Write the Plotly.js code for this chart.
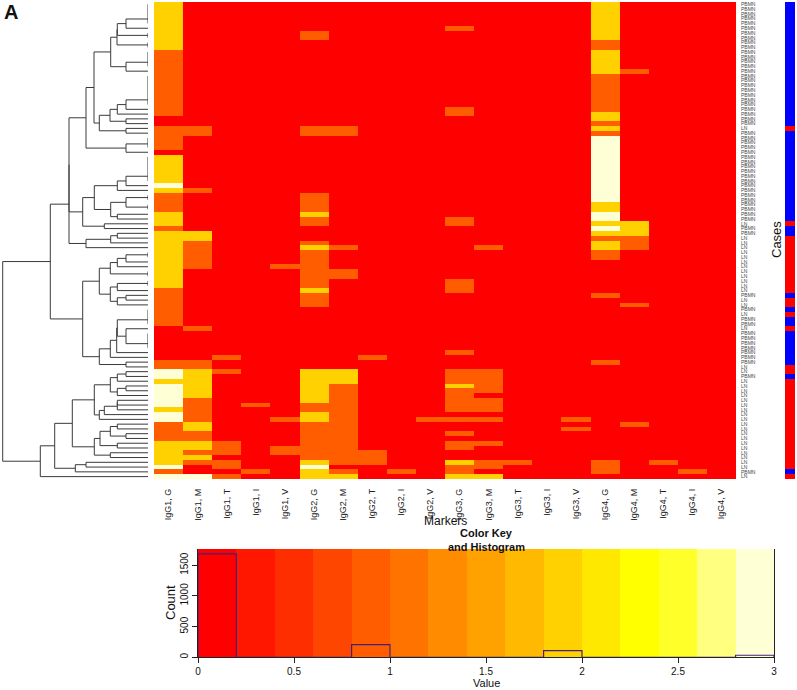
<!DOCTYPE html>
<html>
<head>
<meta charset="utf-8">
<script src="https://cdn.plot.ly/plotly-3.0.1.min.js"></script>
<style>html,body{margin:0;padding:0;background:#fff}</style>
</head>
<body>
<div id="chart" style="width:797px;height:690px"></div>
<script>
// Column labels of the heat map
const markers = ["IgG1, G","IgG1, M","IgG1, T","IgG1, I","IgG1, V","IgG2, G","IgG2, M","IgG2, T","IgG2, I","IgG2, V",
                 "IgG3, G","IgG3, M","IgG3, T","IgG3, I","IgG3, V","IgG4, G","IgG4, M","IgG4, T","IgG4, I","IgG4, V"];

// Heat-map values, one array per marker, top row first (10 values per group)
const IgG1_G = [2,2,2,2,2,2,2,2,2,2, 1,1,1,1,1,1,1,1,1,1, 1,1,1,1,0,0,1,1,1,1, 1,0,2,2,2,2,2,2,3,2, 1,1,1,1,2,2,2,1,2,2, 2,2,2,2,2,2,2,2,2,2, 1,1,1,1,1,1,1,1,0,0, 0,0,0,0,0,1,1,3,3,2, 3,3,3,3,3,2,3,3,1,1, 1,1,2,2,2,2,2,3,1,3];
const IgG1_M = [0,0,0,0,0,0,0,0,0,0, 0,0,0,0,0,0,0,0,0,0, 0,0,0,0,0,0,1,1,0,0, 0,0,0,0,0,0,0,0,0,1, 0,0,0,0,0,0,0,0,2,2, 1,1,1,1,1,1,0,0,0,0, 0,0,0,0,0,0,0,0,1,0, 0,0,0,0,0,1,1,2,2,2, 2,2,2,1,1,1,1,1,2,2, 1,1,2,2,1,2,1,0,0,3];
const IgG1_T = [0,0,0,0,0,0,0,0,0,0, 0,0,0,0,0,0,0,0,0,0, 0,0,0,0,0,0,0,0,0,0, 0,0,0,0,0,0,0,0,0,0, 0,0,0,0,0,0,0,0,0,0, 0,0,0,0,0,0,0,0,0,0, 0,0,0,0,0,0,0,0,0,0, 0,0,0,0,1,0,0,1,0,0, 0,0,0,0,0,0,0,0,0,0, 0,0,1,1,1,0,1,1,0,1];
const IgG1_I = [0,0,0,0,0,0,0,0,0,0, 0,0,0,0,0,0,0,0,0,0, 0,0,0,0,0,0,0,0,0,0, 0,0,0,0,0,0,0,0,0,0, 0,0,0,0,0,0,0,0,0,0, 0,0,0,0,0,0,0,0,0,0, 0,0,0,0,0,0,0,0,0,0, 0,0,0,0,0,0,0,0,0,0, 0,0,0,0,1,0,0,0,0,0, 0,0,0,0,0,0,0,0,1,0];
const IgG1_V = [0,0,0,0,0,0,0,0,0,0, 0,0,0,0,0,0,0,0,0,0, 0,0,0,0,0,0,0,0,0,0, 0,0,0,0,0,0,0,0,0,0, 0,0,0,0,0,0,0,0,0,0, 0,0,0,0,0,1,0,0,0,0, 0,0,0,0,0,0,0,0,0,0, 0,0,0,0,0,0,0,0,0,0, 0,0,0,0,0,0,0,1,0,0, 0,0,0,1,1,0,0,0,0,0];
const IgG2_G = [0,0,0,0,0,0,1,1,0,0, 0,0,0,0,0,0,0,0,0,0, 0,0,0,0,0,0,1,1,0,0, 0,0,0,0,0,0,0,0,0,0, 1,1,1,1,2,1,1,0,0,0, 1,2,1,1,1,1,1,1,1,1, 2,1,1,1,0,0,0,0,0,0, 0,0,0,0,0,0,0,2,2,2, 2,2,2,2,1,1,2,2,1,1, 1,1,1,1,1,1,2,3,2,2];
const IgG2_M = [0,0,0,0,0,0,0,0,0,0, 0,0,0,0,0,0,0,0,0,0, 0,0,0,0,0,0,1,1,0,0, 0,0,0,0,0,0,0,0,0,0, 0,0,0,0,0,0,0,0,0,0, 0,1,0,0,0,0,1,1,0,0, 0,0,0,0,0,0,0,0,0,0, 0,0,0,0,0,0,0,2,2,2, 1,1,1,1,1,1,1,1,1,1, 1,1,1,1,1,1,1,0,1,2];
const IgG2_T = [0,0,0,0,0,0,0,0,0,0, 0,0,0,0,0,0,0,0,0,0, 0,0,0,0,0,0,0,0,0,0, 0,0,0,0,0,0,0,0,0,0, 0,0,0,0,0,0,0,0,0,0, 0,0,0,0,0,0,0,0,0,0, 0,0,0,0,0,0,0,0,0,0, 0,0,0,0,1,0,0,0,0,0, 0,0,0,0,0,0,0,0,0,0, 0,0,0,0,1,1,1,0,0,0];
const IgG2_I = [0,0,0,0,0,0,0,0,0,0, 0,0,0,0,0,0,0,0,0,0, 0,0,0,0,0,0,0,0,0,0, 0,0,0,0,0,0,0,0,0,0, 0,0,0,0,0,0,0,0,0,0, 0,0,0,0,0,0,0,0,0,0, 0,0,0,0,0,0,0,0,0,0, 0,0,0,0,0,0,0,0,0,0, 0,0,0,0,0,0,0,0,0,0, 0,0,0,0,0,0,0,0,1,0];
const IgG2_V = [0,0,0,0,0,0,0,0,0,0, 0,0,0,0,0,0,0,0,0,0, 0,0,0,0,0,0,0,0,0,0, 0,0,0,0,0,0,0,0,0,0, 0,0,0,0,0,0,0,0,0,0, 0,0,0,0,0,0,0,0,0,0, 0,0,0,0,0,0,0,0,0,0, 0,0,0,0,0,0,0,0,0,0, 0,0,0,0,0,0,0,1,0,0, 0,0,0,0,0,0,0,0,0,0];
const IgG3_G = [0,0,0,0,0,1,0,0,0,0, 0,0,0,0,0,0,0,0,0,0, 0,0,1,1,0,0,0,0,0,0, 0,0,0,0,0,0,0,0,0,0, 0,0,0,0,0,1,1,0,0,0, 0,0,0,0,0,0,0,0,1,1, 1,0,0,0,0,0,0,0,0,0, 0,0,0,1,0,0,0,1,1,1, 2,1,1,1,1,1,0,1,0,0, 1,0,1,1,0,0,2,1,1,2];
const IgG3_M = [0,0,0,0,0,0,0,0,0,0, 0,0,0,0,0,0,0,0,0,0, 0,0,0,0,0,0,0,0,0,0, 0,0,0,0,0,0,0,0,0,0, 0,0,0,0,0,0,0,0,0,0, 0,1,0,0,0,0,0,0,0,0, 0,0,0,0,0,0,0,0,0,0, 0,0,0,0,0,0,0,1,1,1, 1,1,0,1,1,1,0,1,0,0, 0,0,1,0,0,0,1,1,0,2];
const IgG3_T = [0,0,0,0,0,0,0,0,0,0, 0,0,0,0,0,0,0,0,0,0, 0,0,0,0,0,0,0,0,0,0, 0,0,0,0,0,0,0,0,0,0, 0,0,0,0,0,0,0,0,0,0, 0,0,0,0,0,0,0,0,0,0, 0,0,0,0,0,0,0,0,0,0, 0,0,0,0,0,0,0,0,0,0, 0,0,0,0,0,0,0,0,0,0, 0,0,0,0,0,0,1,0,0,0];
const IgG3_I = [0,0,0,0,0,0,0,0,0,0, 0,0,0,0,0,0,0,0,0,0, 0,0,0,0,0,0,0,0,0,0, 0,0,0,0,0,0,0,0,0,0, 0,0,0,0,0,0,0,0,0,0, 0,0,0,0,0,0,0,0,0,0, 0,0,0,0,0,0,0,0,0,0, 0,0,0,0,0,0,0,0,0,0, 0,0,0,0,0,0,0,0,0,0, 0,0,0,0,0,0,0,0,0,0];
const IgG3_V = [0,0,0,0,0,0,0,0,0,0, 0,0,0,0,0,0,0,0,0,0, 0,0,0,0,0,0,0,0,0,0, 0,0,0,0,0,0,0,0,0,0, 0,0,0,0,0,0,0,0,0,0, 0,0,0,0,0,0,0,0,0,0, 0,0,0,0,0,0,0,0,0,0, 0,0,0,0,0,0,0,0,0,0, 0,0,0,0,0,0,0,1,0,1, 0,0,0,0,0,0,0,0,0,0];
const IgG4_G = [2,2,2,2,2,2,2,2,1,1, 2,2,2,2,2,1,1,1,1,1, 1,1,1,2,2,1,2,1,3,3, 3,3,3,3,3,3,3,3,3,3, 3,3,2,2,3,3,2,3,2,1, 2,2,1,1,0,0,0,0,0,0, 0,1,0,0,0,0,0,0,0,0, 0,0,0,0,0,1,0,0,0,0, 0,0,0,0,0,0,0,0,0,0, 0,0,0,0,0,0,1,1,1,0];
const IgG4_M = [0,0,0,0,0,0,0,0,0,0, 0,0,0,0,1,0,0,0,0,0, 0,0,0,0,0,0,0,0,0,0, 0,0,0,0,0,0,0,0,0,0, 0,0,0,0,0,0,2,2,2,1, 1,1,0,0,0,0,0,0,0,0, 0,0,0,1,0,0,0,0,0,0, 0,0,0,0,0,0,0,0,0,0, 0,0,0,0,0,0,0,0,1,0, 0,0,0,0,0,0,0,0,0,0];
const IgG4_T = [0,0,0,0,0,0,0,0,0,0, 0,0,0,0,0,0,0,0,0,0, 0,0,0,0,0,0,0,0,0,0, 0,0,0,0,0,0,0,0,0,0, 0,0,0,0,0,0,0,0,0,0, 0,0,0,0,0,0,0,0,0,0, 0,0,0,0,0,0,0,0,0,0, 0,0,0,0,0,0,0,0,0,0, 0,0,0,0,0,0,0,0,0,0, 0,0,0,0,0,0,1,0,0,0];
const IgG4_I = [0,0,0,0,0,0,0,0,0,0, 0,0,0,0,0,0,0,0,0,0, 0,0,0,0,0,0,0,0,0,0, 0,0,0,0,0,0,0,0,0,0, 0,0,0,0,0,0,0,0,0,0, 0,0,0,0,0,0,0,0,0,0, 0,0,0,0,0,0,0,0,0,0, 0,0,0,0,0,0,0,0,0,0, 0,0,0,0,0,0,0,0,0,0, 0,0,0,0,0,0,0,0,1,0];
const IgG4_V = [0,0,0,0,0,0,0,0,0,0, 0,0,0,0,0,0,0,0,0,0, 0,0,0,0,0,0,0,0,0,0, 0,0,0,0,0,0,0,0,0,0, 0,0,0,0,0,0,0,0,0,0, 0,0,0,0,0,0,0,0,0,0, 0,0,0,0,0,0,0,0,0,0, 0,0,0,0,0,0,0,0,0,0, 0,0,0,0,0,0,0,0,0,0, 0,0,0,0,0,0,0,0,0,0];
const columns = [IgG1_G,IgG1_M,IgG1_T,IgG1_I,IgG1_V,IgG2_G,IgG2_M,IgG2_T,IgG2_I,IgG2_V,
                 IgG3_G,IgG3_M,IgG3_T,IgG3_I,IgG3_V,IgG4_G,IgG4_M,IgG4_T,IgG4_I,IgG4_V];

// Case side bar: 1 = PBMN (blue), 0 = LN (red)
const caseGroup = [1,1,1,1,1,1,1,1,1,1, 1,1,1,1,1,1,1,1,1,1, 1,1,1,1,1,1,0,1,1,1, 1,1,1,1,1,1,1,1,1,1, 1,1,1,1,1,1,0,1,1,0, 0,0,0,0,0,0,0,0,0,0, 0,1,0,0,1,0,1,1,0,1, 1,1,1,1,1,1,0,0,1,0, 0,0,0,0,0,0,0,0,0,0, 0,0,0,0,0,0,0,0,1,0];
const caseNames = ["LN","PBMN"];

// Row dendrogram: [height, upper child, lower child]; a plain number n is n identical leaves
const cladeA = [37.3, [31, [30.7, [22, 5, 1], 2], 2], [22, 4, 1]];
const cladeB = [48.7, [38, [30.7, [22, 7, 1], 1], [22, 1, 1]], [22, 1, 1]];
const cladeC = [62, [54, cladeA, cladeB], [22, 3, 1]];
const cladeD = [65.3, [53.7, [30.7, [22, 6, 1], 1], [37.3, [22, 2, 2], [30.7, 1, 1]]], [43.7, 1, 1]];
const cladeE = [62, [37.3, [30.7, 1, 1], 1], 1];
const cladeF = [79, [79, cladeC, cladeD], cladeE];
const cladeG = [48.7, [37.7, [30.7, [22, 2, 1], 1], 2], [37.7, [30.7, 2, 1], [30.7, [22, 1, 1], 1]]];
const cladeH = [48.7, [37.7, [31.3, [30.7, 4, [22, 1, 4]], 1], 1], [22, 1, 1]];
const cladeI = [65.3, cladeG, cladeH];
const cladeJ = [53.7, [37.7, [30.7, [22, 1, 1], 1], [30.7, [22, 1, 1], 1]], [48.7, [43.7, [30.7, [30.7, 1, 1], 1], 1], 1]];
const cladeK = [53.7, [48, [37.7, [30.7, 1, 1], [22, 1, 1]], [30.7, 1, 1]], [37.7, 1, 1]];
const cladeL = [93.3, [75.7, cladeJ, cladeK], [72.7, [62, 1, 1], 1]];
const dendrogramRoot = [145.3, [97.7, cladeF, cladeI], [107.7, cladeL, 1]];

// Colour key and histogram
const keyEdges = [0,0.2,0.4,0.6,0.8,1,1.2,1.4,1.6,1.8,2,2.2,2.4,2.6,2.8,3];
const keyColors = ["#FF0000","#FF1700","#FF2E00","#FF4600","#FF5D00","#FF7400","#FF8B00","#FFA200","#FFB900","#FFD100","#FFE800","#FFFF00","#FFFF2A","#FFFF80","#FFFFD5"];
const histCounts = [1683,0,0,0,206,0,0,0,0,108,0,0,0,0,33];
const histTop = 1764;

// ---------- build traces ----------
const nRows = columns[0].length;
const rows = columns[0].map((_, r) => r);
const colIdx = markers.map((_, c) => c);
const z = rows.map(r => columns.map(col => col[r]));

let next = 0;
const lx = [], ly = [];
function seg(x0, y0, x1, y1) { lx.push(x0, x1, null); ly.push(y0, y1, null); }
function place(node) {
  if (!Array.isArray(node)) {
    const first = next, last = next + node - 1;
    next += node;
    let c = first;
    for (let i = first + 1; i <= last; i++) c = (c + i) / 2;
    if (last > first) seg(0, first, 0, last);
    return { h: 0, y: c };
  }
  const a = place(node[1]), b = place(node[2]), h = node[0];
  seg(h, a.y, h, b.y);
  seg(h, a.y, a.h, a.y);
  seg(h, b.y, b.h, b.y);
  return { h: h, y: (a.y + b.y) / 2 };
}
place(dendrogramRoot);

const stepX = [0], stepY = [0];
histCounts.forEach((v, i) => { stepX.push(keyEdges[i]); stepY.push(v); });
stepX.push(keyEdges[keyEdges.length - 1]); stepY.push(0);

const keyScale = [];
keyColors.forEach((c, i) => { keyScale.push([i / 15, c], [(i + 1) / 15, c]); });

const W = 797, H = 690;
const px = (a, b) => [a / W, b / W];
const py = (top, bottom) => [1 - bottom / H, 1 - top / H];
const sans = "Liberation Sans, Arial, sans-serif";

const data = [
  { type: "heatmap", x: colIdx, y: rows, z: z, xaxis: "x", yaxis: "y", zmin: 0, zmax: 3, showscale: false, hoverongaps: false,
    colorscale: [[0, keyColors[0]], [1 / 3, keyColors[4]], [2 / 3, keyColors[9]], [1, keyColors[14]]] },
  { type: "scatter", mode: "lines", x: lx, y: ly, xaxis: "x2", yaxis: "y2", cliponaxis: false, connectgaps: false,
    line: { color: "#3a3a3a", width: 1 }, showlegend: false, hoverinfo: "skip" },
  { type: "heatmap", x: [0], y: rows, z: rows.map(r => [caseGroup[r]]), xaxis: "x3", yaxis: "y3", zmin: 0, zmax: 1, showscale: false,
    colorscale: [[0, "#FF0000"], [1, "#0000FF"]] },
  { type: "heatmap", x: keyEdges, y: [0, histTop], z: [keyColors.map((_, i) => i)], xaxis: "x4", yaxis: "y4", zmin: 0, zmax: 15, showscale: false,
    colorscale: keyScale },
  { type: "scatter", mode: "lines", x: stepX, y: stepY, xaxis: "x4", yaxis: "y4", cliponaxis: false,
    line: { color: "#46207a", width: 1.2, shape: "hv" }, showlegend: false }
];

const layout = {
  width: W, height: H, autosize: false, margin: { l: 0, r: 0, t: 0, b: 0 },
  paper_bgcolor: "#fff", plot_bgcolor: "#fff", showlegend: false, font: { family: sans },
  xaxis: { domain: px(154, 736), range: [-0.5, 19.5], tickmode: "array", tickvals: colIdx, ticktext: markers, tickangle: -90,
           ticks: "", ticklabelstandoff: 7, showgrid: false, zeroline: false, showline: false, tickfont: { family: sans, size: 9, color: "#222" } },
  yaxis: { domain: py(2, 479), range: [nRows - 0.5, -0.5], side: "right", tickmode: "array", tickvals: rows,
           ticktext: caseGroup.map(g => caseNames[g]), ticks: "", ticklabelstandoff: 4, showgrid: false, zeroline: false, showline: false,
           tickfont: { family: sans, size: 5, color: "#444" } },
  xaxis2: { domain: px(0, 148), range: [148, 0], anchor: "y2", visible: false, fixedrange: true },
  yaxis2: { domain: py(2, 479), range: [nRows - 0.5, -0.5], anchor: "x2", visible: false, fixedrange: true },
  xaxis3: { domain: px(785, 795), range: [-0.5, 0.5], anchor: "y3", visible: false },
  yaxis3: { domain: py(2, 479), range: [nRows - 0.5, -0.5], anchor: "x3", visible: false },
  xaxis4: { domain: px(198, 774), range: [0, 3], anchor: "y4", tickmode: "array", tickvals: [0, 0.5, 1, 1.5, 2, 2.5, 3], ticktext: ["0", "0.5", "1", "1.5", "2", "2.5", "3"],
            ticks: "outside", ticklen: 5, tickcolor: "#222", showline: true, linecolor: "#222", linewidth: 1, showgrid: false, zeroline: false,
            tickfont: { family: sans, size: 10, color: "#111" } },
  yaxis4: { domain: py(549, 657.3), range: [0, histTop], anchor: "x4", tickmode: "array", tickvals: [0, 500, 1000, 1500], ticktext: ["0", "500", "1000", "1500"],
            ticks: "outside", ticklen: 5, tickcolor: "#222", tickangle: -90, showline: true, mirror: true, linecolor: "#222", linewidth: 1, showgrid: false, zeroline: false,
            tickfont: { family: sans, size: 10, color: "#111" } },
  annotations: [
    { text: "<b>A</b>", xref: "paper", yref: "paper", x: 2 / W, y: 1 - 12 / H, xanchor: "left", yanchor: "middle", showarrow: false, font: { family: sans, size: 20, color: "#111" } },
    { text: "Markers", xref: "paper", yref: "paper", x: 446 / W, y: 1 - 521 / H, xanchor: "center", yanchor: "middle", showarrow: false, font: { family: sans, size: 12, color: "#111" } },
    { text: "<b>Color Key</b>", xref: "paper", yref: "paper", x: 486 / W, y: 1 - 533 / H, xanchor: "center", yanchor: "middle", showarrow: false, font: { family: sans, size: 11, color: "#111" } },
    { text: "<b>and Histogram</b>", xref: "paper", yref: "paper", x: 486 / W, y: 1 - 547 / H, xanchor: "center", yanchor: "middle", showarrow: false, font: { family: sans, size: 11, color: "#111" } },
    { text: "Value", xref: "paper", yref: "paper", x: 486 / W, y: 1 - 683 / H, xanchor: "center", yanchor: "middle", showarrow: false, font: { family: sans, size: 11, color: "#111" } },
    { text: "Count", xref: "paper", yref: "paper", x: 170 / W, y: 1 - 603 / H, xanchor: "center", yanchor: "middle", textangle: -90, showarrow: false, font: { family: sans, size: 13, color: "#111" } },
    { text: "Cases", xref: "paper", yref: "paper", x: 776 / W, y: 1 - 240 / H, xanchor: "center", yanchor: "middle", textangle: -90, showarrow: false, font: { family: sans, size: 13, color: "#111" } }
  ]
};

Plotly.newPlot("chart", data, layout, { displayModeBar: false, staticPlot: true });
</script>
</body>
</html>
